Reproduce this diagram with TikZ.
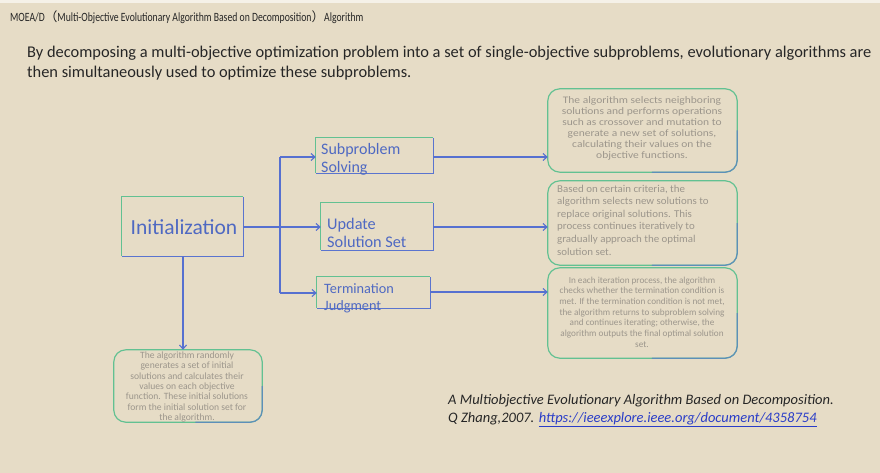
\documentclass[tikz,border=0pt]{standalone}
\usepackage{fontspec}
\setmainfont{Carlito}
\newfontfamily\cjk{Noto Sans CJK SC}
\newfontfamily\titlefont[FakeStretch=0.77]{Carlito}
\usetikzlibrary{arrows.meta,calc}
\definecolor{bg}{HTML}{E6DCC6}
\definecolor{bxgreen}{HTML}{62C192}
\definecolor{bxblue}{HTML}{5A74CF}
\definecolor{lnblue}{HTML}{5670D0}
\definecolor{txblue}{HTML}{4F69C2}
\definecolor{txgray}{HTML}{9C968C}
\definecolor{txdark}{HTML}{262626}
\definecolor{link}{HTML}{2A3DC8}
\tikzset{
  x=1pt, y=-1pt,
  sqbox/.style={draw=none, minimum width=#1, inner sep=0pt},
  conn/.style={draw=lnblue, line width=1.1pt, -{Straight Barb[length=4pt,width=7pt]}},
  plainconn/.style={draw=lnblue, line width=1.1pt},
  boxlbl/.style={anchor=base west, inner sep=0pt, text=txblue},
  desc/.style={inner sep=0pt, text=txgray},
}
\newcommand{\sqframe}[1]{%
  \draw[bxgreen, line width=1pt] (#1.south west) |- (#1.north east);
  \draw[bxblue, line width=1pt] (#1.north east) |- (#1.south west);}
\newcommand{\rndframe}[1]{%
  \draw[bxgreen, line width=1.2pt, rounded corners=12pt] (#1.south west) rectangle (#1.north east);
  \draw[bxblue!80!bxgreen, line width=1.2pt, rounded corners=12pt, opacity=0.8] ($(#1.south west)!0.55!(#1.south east)$) -| ($(#1.south east)!0.5!(#1.north east)$);}
\newcommand{\dfont}[3]{\fontsize{#1}{#2}\selectfont\addfontfeature{FakeStretch=#3}}
\begin{document}
\begin{tikzpicture}
\fill[bg] (0,0) rectangle (880,473);
\useasboundingbox (0,0) rectangle (880,473);
\fill[white!60!bg] (0,0) rectangle (880,3);

% title and intro
\node[anchor=west, inner sep=0pt, text=txdark, font=\titlefont\fontsize{12.6}{14}\selectfont] (title) at (10,17)
  {MOEA/D{\cjk （}Multi-Objective Evolutionary Algorithm Based on Decomposition{\cjk ）}Algorithm};
\node[anchor=north west, inner sep=0pt, text=txdark, align=left, font=\fontsize{16.4}{20}\selectfont] (intro) at (27,45.5)
  {By decomposing a multi-objective optimization problem into a set of single-objective subproblems, evolutionary algorithms are\\
   then simultaneously used to optimize these subproblems.};

% square boxes
\node[sqbox=121pt, minimum height=59pt] (init) at (182.5,226.5) {};
\sqframe{init}
\node[inner sep=0pt, text=txblue, font=\fontsize{21.5}{24}\selectfont] (initlbl) at (184,227) {Initialization};

\node[sqbox=117pt, minimum height=35pt] (sub) at (374.5,155.5) {};
\sqframe{sub}
\node[boxlbl, font=\fontsize{16}{18}\selectfont] (sublbla) at (321,154.5) {Subproblem};
\node[boxlbl, font=\fontsize{16}{18}\selectfont] (sublblb) at (321,172) {Solving};

\node[sqbox=112pt, minimum height=47pt] (upd) at (377,226.5) {};
\sqframe{upd}
\node[boxlbl, font=\fontsize{16.3}{18}\selectfont] (updlbla) at (327,229.5) {Update};
\node[boxlbl, font=\fontsize{16.3}{18}\selectfont] (updlblb) at (327,247.5) {Solution Set};

\node[sqbox=113pt, minimum height=31pt] (term) at (373.5,292.5) {};
\sqframe{term}
\node[boxlbl, font=\fontsize{14.3}{16}\selectfont] (termlbla) at (324,293.5) {Termination};
\node[boxlbl, font=\fontsize{14.3}{16}\selectfont] (termlblb) at (324,310.5) {Judgment};

% rounded description boxes
\node[sqbox=189pt, minimum height=83pt] (r1) at (642.5,130.5) {};
\rndframe{r1}
\node[desc, align=center, font=\dfont{10}{11}{1.15}] (r1t) at (642,128) {The algorithm selects neighboring\\solutions and performs operations\\such as crossover and mutation to\\generate a new set of solutions,\\calculating their values on the\\objective functions.};

\node[sqbox=189pt, minimum height=84pt] (r2) at (642.5,223) {};
\rndframe{r2}
\node[desc, align=left, anchor=west, font=\dfont{10.5}{12.6}{1.04}] (r2t) at (557,220) {Based on certain criteria, the\\algorithm selects new solutions to\\replace original solutions. This\\process continues iteratively to\\gradually approach the optimal\\solution set.};

\node[sqbox=189pt, minimum height=90pt] (r3) at (642.5,313) {};
\rndframe{r3}
\node[desc, align=center, font=\fontsize{9.2}{10.7}\selectfont] (r3t) at (642,312) {In each iteration process, the algorithm\\checks whether the termination condition is\\met. If the termination condition is not met,\\the algorithm returns to subproblem solving\\and continues iterating; otherwise, the\\algorithm outputs the final optimal solution\\set.};

\node[sqbox=148pt, minimum height=72pt] (bot) at (188,386) {};
\rndframe{bot}
\node[desc, align=center, font=\fontsize{9.6}{10.3}\selectfont] (bott) at (187,387) {The algorithm randomly\\generates a set of initial\\solutions and calculates their\\values on each objective\\function. These initial solutions\\form the initial solution set for\\the algorithm.};

% connectors
\coordinate (br) at (280,227);
\coordinate (brtop) at (280,157);
\coordinate (brbot) at (280,293);
\draw[conn] (init.east |- br) -- (upd.west |- br);
\draw[plainconn] (brtop) -- (brbot);
\draw[conn] (brtop) -- (sub.west |- brtop);
\draw[conn] (brbot) -- (term.west |- brbot);
\draw[conn] (sub.east |- brtop) -- (r1.west |- brtop);
\draw[conn] (upd.east |- br) -- (r2.west |- br);
\draw[conn] (term.east |- 0,292) -- (r3.west |- 0,292);
\draw[conn] (init.south -| 183,0) -- (bot.north -| 183,0);

% citation
\node[anchor=north west, inner sep=0pt, text=txdark, align=left, font=\itshape\fontsize{14.5}{18}\selectfont] (cite) at (448,394)
  {A Multiobjective Evolutionary Algorithm Based on Decomposition.\\
   Q Zhang,2007. {\color{link}\underline{https://ieeexplore.ieee.org/document/4358754}}};
\end{tikzpicture}
\end{document}
